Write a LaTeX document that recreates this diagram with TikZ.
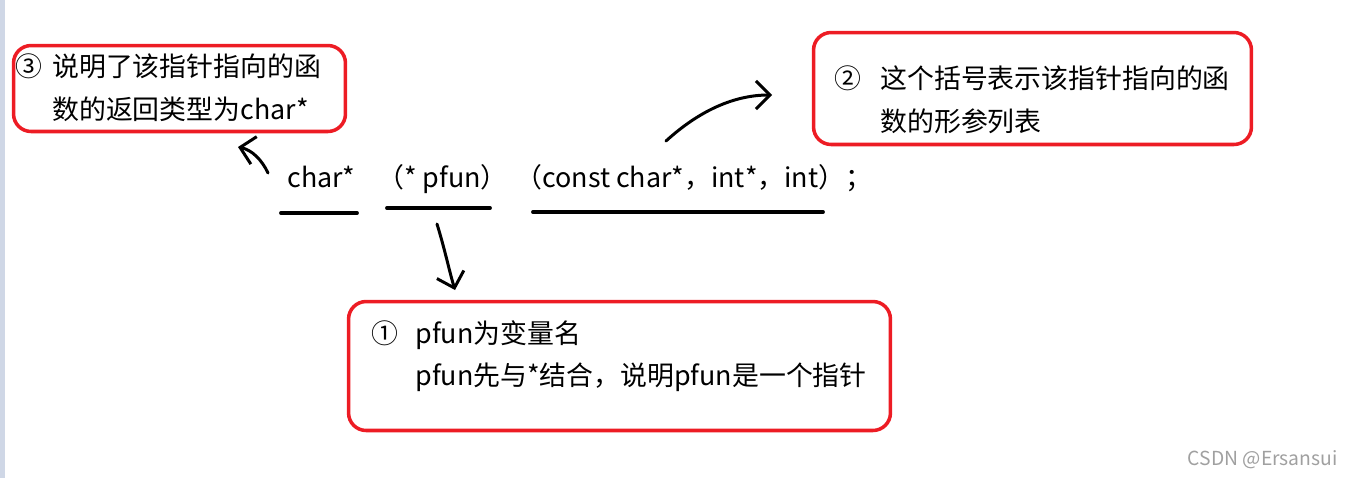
\documentclass[tikz,border=0pt]{standalone}
\usepackage{fontspec}
\setmainfont{Noto Sans CJK SC}
\usepackage{tikz}
\usetikzlibrary{positioning,arrows.meta}
\usepackage{xcolor}
\definecolor{paintred}{HTML}{ED1C24}
\definecolor{sidebar}{HTML}{CFD7E6}
\definecolor{mark}{HTML}{A0A0A0}

\begin{document}
\begin{tikzpicture}[x=0.02cm,y=-0.02cm,>={Straight Barb[length=8pt,width=16pt,line width=1.7pt]},
  note/.style={draw=paintred,line width=2pt,rounded corners=10pt,inner sep=0pt},
  txt/.style={anchor=base west,inner sep=0pt,font=\fontsize{15.3}{18}\selectfont},
  hand/.style={->,line width=1.7pt,line cap=round}]
\useasboundingbox (0,0) rectangle (1352,478);
\fill[sidebar] (0,0) rectangle (5,478);
% the three notes
\node[note,minimum width=6.64cm,minimum height=1.72cm] (ret note) at (179.5,88.5) {};
\node[note,minimum width=8.76cm,minimum height=2.24cm] (arg note) at (1032.5,88.5) {};
\node[note,minimum width=10.84cm,minimum height=2.58cm] (ptr note) at (619.5,366) {};
\node[txt] (n3) at (15,76) {③};
\node[txt] (n3a) at (52,76) {说明了该指针指向的函};
\node[txt] (n3b) at (52,119) {数的返回类型为char*};
\node[txt] (n2) at (834,88) {②};
\node[txt] (n2a) at (880,88) {这个括号表示该指针指向的函};
\node[txt] (n2b) at (880,131) {数的形参列表};
\node[txt] (n1) at (371,343) {①};
\node[txt] (n1a) at (415,343) {pfun为变量名};
\node[txt] (n1b) at (415,385) {pfun先与*结合，说明pfun是一个指针};
% the declaration
\node[txt] (ret) at (287,187) {char*};
\node[txt] (name) at (377,187) {（* pfun）};
\node[txt] (args) at (515,187) {（const char*，int*，int）；};
\draw[line width=2.2pt,line cap=round] (281,213) -- (357,213);
\draw[line width=2.2pt,line cap=round] (387,208) -- (490,208);
\draw[line width=2.2pt,line cap=round] (533,212) -- (823,212);
% hand drawn arrows
\coordinate (t3) at (268,173);
\coordinate (h3) at (238,147);
\coordinate (t2) at (666,141);
\coordinate (h2) at (772,95);
\coordinate (t1) at (437,224);
\coordinate (h1) at (455,290);
\draw[hand] (t3) .. controls (262,160) and (252,150) .. (h3);
\draw[hand] (t2) .. controls (700,110) and (735,95) .. (h2);
\draw[hand] (t1) .. controls (445,250) and (449,270) .. (h1);
\node[anchor=east,inner sep=0pt,text=mark,font=\fontsize{11}{13}\selectfont] (wm) at (1338,460) {CSDN @Ersansui};
\end{tikzpicture}
\end{document}
